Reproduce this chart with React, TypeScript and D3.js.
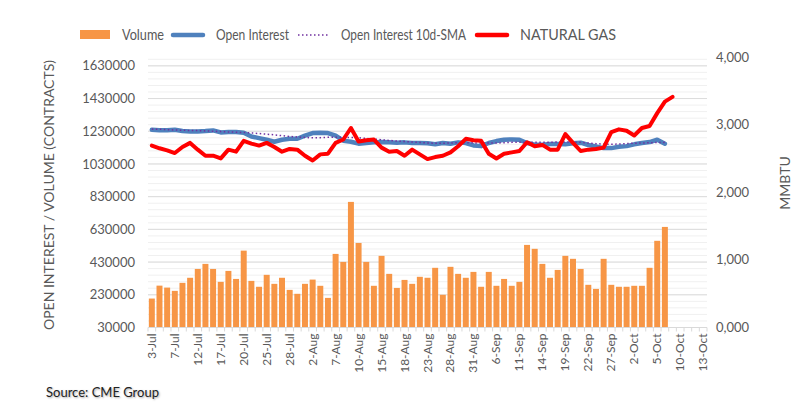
import React from "react";
import * as d3 from "d3";

// trading days shown on the category axis
const dates = [
  "3-Jul", "5-Jul", "6-Jul", "7-Jul", "10-Jul", "11-Jul", "12-Jul", "13-Jul", "14-Jul", "17-Jul",
  "18-Jul", "19-Jul", "20-Jul", "21-Jul", "24-Jul", "25-Jul", "26-Jul", "27-Jul", "28-Jul", "31-Jul",
  "1-Aug", "2-Aug", "3-Aug", "4-Aug", "7-Aug", "8-Aug", "9-Aug", "10-Aug", "11-Aug", "14-Aug",
  "15-Aug", "16-Aug", "17-Aug", "18-Aug", "21-Aug", "22-Aug", "23-Aug", "24-Aug", "25-Aug", "28-Aug",
  "29-Aug", "30-Aug", "31-Aug", "1-Sep", "5-Sep", "6-Sep", "7-Sep", "8-Sep", "11-Sep", "12-Sep",
  "13-Sep", "14-Sep", "15-Sep", "18-Sep", "19-Sep", "20-Sep", "21-Sep", "22-Sep", "25-Sep", "26-Sep",
  "27-Sep", "28-Sep", "29-Sep", "2-Oct", "3-Oct", "4-Oct", "5-Oct", "6-Oct", "9-Oct", "10-Oct",
  "11-Oct", "12-Oct", "13-Oct",
];

const volume = [
  207000, 286000, 274000, 254000, 303000, 334000, 388000, 419000, 388000, 309000,
  376000, 327000, 500000, 315000, 279000, 352000, 297000, 334000, 260000, 236000,
  297000, 323000, 285000, 211000, 480000, 431000, 798000, 547000, 431000, 285000,
  468000, 358000, 272000, 321000, 297000, 340000, 334000, 395000, 230000, 401000,
  358000, 334000, 370000, 279000, 370000, 285000, 327000, 285000, 309000, 535000,
  511000, 419000, 334000, 382000, 468000, 450000, 388000, 291000, 266000, 450000,
  291000, 279000, 279000, 285000, 285000, 395000, 560000, 645000,
];

const openInterest = [
  1239000, 1236000, 1236000, 1239000, 1231000, 1229000, 1229000, 1231000, 1235000, 1223000,
  1225000, 1225000, 1221000, 1198000, 1188000, 1178000, 1166000, 1178000, 1184000, 1184000,
  1203000, 1219000, 1221000, 1219000, 1203000, 1172000, 1166000, 1154000, 1158000, 1162000,
  1164000, 1162000, 1160000, 1162000, 1158000, 1158000, 1156000, 1150000, 1158000, 1154000,
  1162000, 1158000, 1143000, 1139000, 1158000, 1170000, 1178000, 1180000, 1178000, 1158000,
  1148000, 1148000, 1152000, 1152000, 1150000, 1156000, 1160000, 1146000, 1137000, 1127000,
  1127000, 1135000, 1139000, 1150000, 1158000, 1164000, 1178000, 1154000,
];

const oiSma = [
  1243000, 1242000, 1240000, 1238000, 1236000, 1235000, 1234000, 1232000, 1230000, 1228000,
  1226000, 1224000, 1222000, 1220000, 1216000, 1212000, 1208000, 1203000, 1198000, 1195000,
  1192000, 1190000, 1191000, 1193000, 1194000, 1193000, 1192000, 1190000, 1186000, 1182000,
  1178000, 1174000, 1170000, 1167000, 1164000, 1161000, 1158000, 1157000, 1157000, 1158000,
  1160000, 1160000, 1159000, 1158000, 1158000, 1158000, 1160000, 1162000, 1163000, 1163000,
  1162000, 1162000, 1163000, 1164000, 1164000, 1164000, 1162000, 1158000, 1154000, 1152000,
  1150000, 1152000, 1155000, 1157000, 1158000, 1160000, 1161000, 1162000,
];

const naturalGas = [
  2.69, 2.65, 2.62, 2.58, 2.67, 2.73, 2.63, 2.54, 2.54, 2.5,
  2.63, 2.6, 2.76, 2.72, 2.69, 2.73, 2.67, 2.6, 2.64, 2.63,
  2.54, 2.47, 2.56, 2.57, 2.73, 2.78, 2.95, 2.75, 2.77, 2.78,
  2.66, 2.6, 2.61, 2.54, 2.63, 2.56, 2.49, 2.52, 2.54, 2.59,
  2.68, 2.79, 2.77, 2.76, 2.57, 2.5, 2.57, 2.59, 2.61, 2.74,
  2.68, 2.7, 2.63, 2.63, 2.86, 2.73, 2.61, 2.63, 2.64, 2.66,
  2.89, 2.93, 2.91, 2.84, 2.95, 2.98, 3.17, 3.34, 3.41,
];

const leftTicks = [30000, 230000, 430000, 630000, 830000, 1030000, 1230000, 1430000, 1630000];
const rightTicks = [0, 1, 2, 3, 4];

const W = 811;
const H = 420;
const left = 148;
const right = 707;
const top = 57;
const bottom = 327.5;

const font = "Lato, 'Open Sans', sans-serif";
const textColor = "#595959";

export default function App() {
  const x = d3.scaleBand<number>().domain(d3.range(dates.length)).range([left, right]);
  const step = x.step();
  const cx = (i: number) => left + step * (i + 0.5);

  const yLeft = d3.scaleLinear().domain([30000, 1684000]).range([bottom, top]);
  const yRight = d3.scaleLinear().domain([0, 4]).range([bottom, top]);

  const minorTicks = d3.range(30000, 1684000, 40000);

  const oiLine = d3.line<number>().x((_, i) => cx(i)).y((d) => yLeft(d));
  const ngLine = d3.line<number>().x((_, i) => cx(i)).y((d) => yRight(d));

  const fmtRight = (v: number) => d3.format(",.3f")(v).replace(".", ",");

  return (
    <svg width={W} height={H} style={{ position: "absolute", left: 0, top: 0, background: "#fff" }} fontFamily={font}>
      {/* minor grid */}
      {minorTicks.map((t) => (
        <line key={"m" + t} x1={left} x2={right} y1={yLeft(t)} y2={yLeft(t)} stroke="#F0F0F0" strokeWidth={1} />
      ))}
      {/* major grid */}
      {leftTicks.map((t) => (
        <line key={"g" + t} x1={left} x2={right} y1={yLeft(t)} y2={yLeft(t)} stroke="#DCDCDC" strokeWidth={1} />
      ))}

      {/* volume bars */}
      {volume.map((v, i) => (
        <rect
          key={"b" + i}
          x={cx(i) - (step * 0.78) / 2}
          width={step * 0.78}
          y={yLeft(v)}
          height={yLeft(30000) - yLeft(v)}
          fill="#F79646"
        />
      ))}

      {/* category axis */}
      <line x1={left} x2={right} y1={bottom} y2={bottom} stroke="#D9D9D9" />
      {d3.range(dates.length + 1).map((i) => (
        <line key={"t" + i} x1={left + step * i} x2={left + step * i} y1={bottom} y2={bottom + 4} stroke="#D9D9D9" />
      ))}
      {dates.map((d, i) =>
        i % 3 === 0 ? (
          <text
            key={"xl" + i}
            transform={`translate(${cx(i) + 4},${bottom + 6}) rotate(-90)`}
            textAnchor="end"
            fontSize={12}
            fill={textColor}
          >
            {d}
          </text>
        ) : null
      )}

      {/* open interest */}
      <path d={oiLine(openInterest) ?? ""} fill="none" stroke="#4F81BD" strokeWidth={4.5} strokeLinejoin="round" strokeLinecap="round" />
      <path d={oiLine(oiSma) ?? ""} fill="none" stroke="#7030A0" strokeWidth={1.5} strokeDasharray="1.5,2.5" />
      {/* natural gas */}
      <path d={ngLine(naturalGas) ?? ""} fill="none" stroke="#FF0000" strokeWidth={4} strokeLinejoin="round" strokeLinecap="round" />

      {/* left axis labels */}
      {leftTicks.map((t) => (
        <text key={"yl" + t} x={135} y={yLeft(t)} dy="0.35em" textAnchor="end" fontSize={13} fill={textColor}>
          {t}
        </text>
      ))}
      {/* right axis labels */}
      {rightTicks.map((t) => (
        <text key={"yr" + t} x={716} y={yRight(t)} dy="0.35em" textAnchor="start" fontSize={13} fill={textColor}>
          {fmtRight(t)}
        </text>
      ))}

      {/* axis titles */}
      <text transform="translate(54,195) rotate(-90)" textAnchor="middle" fontSize={14} fill={textColor}>
        OPEN INTEREST / VOLUME (CONTRACTS)
      </text>
      <text transform="translate(790,183) rotate(-90)" textAnchor="middle" fontSize={14} fill={textColor}>
        MMBTU
      </text>

      {/* legend */}
      <g fontSize={14.5} fill={textColor}>
        <rect x={80} y={30} width={30} height={9} fill="#F79646" />
        <text x={122} y={40} textLength={42} lengthAdjust="spacingAndGlyphs">Volume</text>
        <line x1={173} x2={203} y1={35} y2={35} stroke="#4F81BD" strokeWidth={4.5} strokeLinecap="round" />
        <text x={216} y={40} textLength={73} lengthAdjust="spacingAndGlyphs">Open Interest</text>
        <line x1={298} x2={328} y1={35} y2={35} stroke="#7030A0" strokeWidth={1.5} strokeDasharray="1.5,2.5" />
        <text x={341} y={40} textLength={125} lengthAdjust="spacingAndGlyphs">Open Interest 10d-SMA</text>
        <line x1={477} x2={507} y1={35} y2={35} stroke="#FF0000" strokeWidth={4.5} strokeLinecap="round" />
        <text x={520} y={40} textLength={96} lengthAdjust="spacingAndGlyphs">NATURAL GAS</text>
      </g>

      <text x={46} y={397} fontSize={13} fill="#222" style={{ textShadow: "1px 1px 2px rgba(0,0,0,0.35)" }}>
        Source: CME Group
      </text>
    </svg>
  );
}
